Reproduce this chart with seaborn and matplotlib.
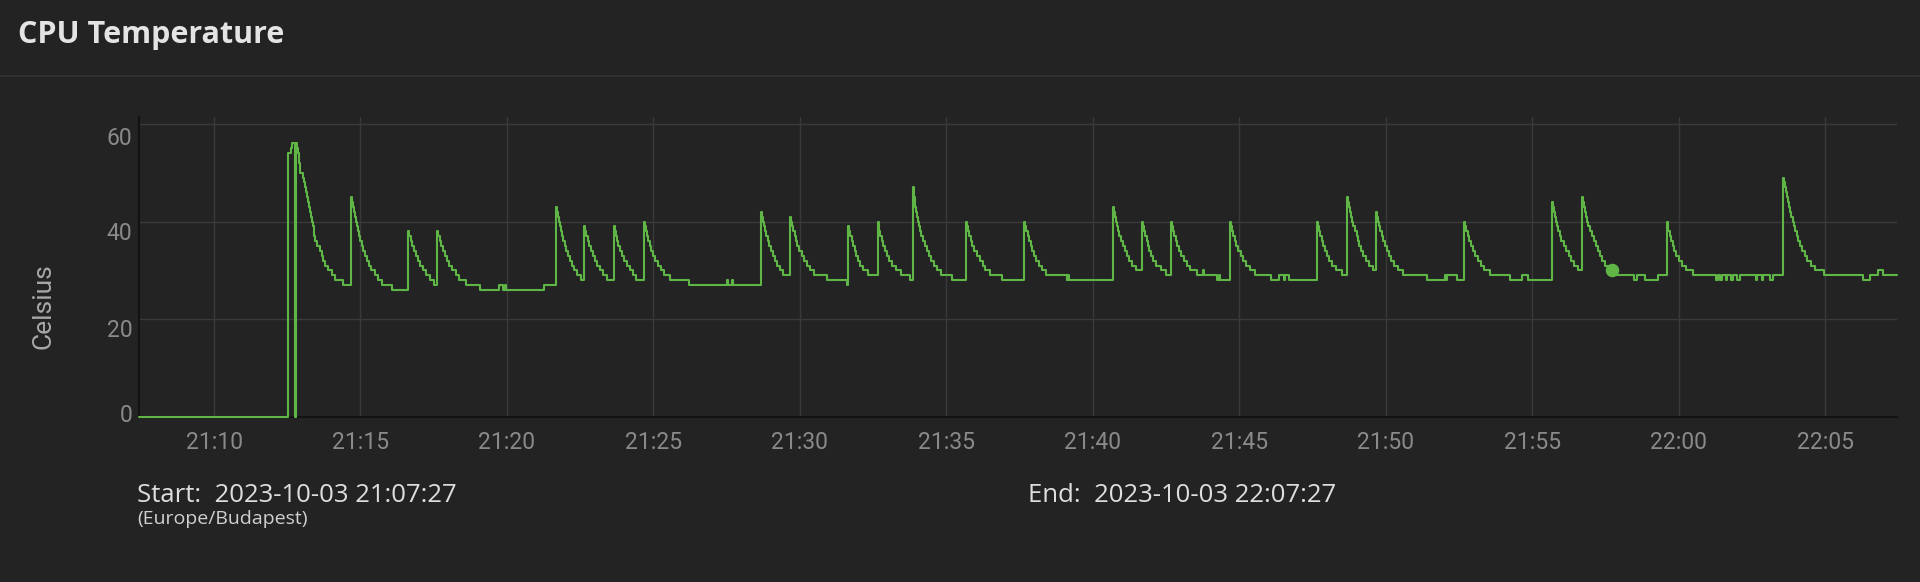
import numpy as np
import pandas as pd
import matplotlib
matplotlib.use("Agg")
import matplotlib.pyplot as plt
import matplotlib.dates as mdates
from matplotlib.lines import Line2D
from matplotlib.transforms import ScaledTranslation
import seaborn as sns

start = "2023-10-03 21:07:27"
end = "2023-10-03 22:07:27"
zone = "Europe/Budapest"

# CPU temperature in Celsius, each value held for the matching number of seconds
temps = [
    0, 54, 55, 56, 0, 56, 55, 54, 53, 52, 51, 50, 49, 48, 47, 46, 45, 44, 43, 42, 41, 40, 39, 38, 37, 36, 35, 34, 33, 32, 31, 30, 29, 28, 27,
    45, 44, 43, 42, 41, 40, 39, 38, 37, 36, 35, 34, 33, 32, 31, 30, 29, 28, 27, 26,
    38, 37, 36, 35, 34, 33, 32, 31, 30, 29, 28, 27,
    38, 37, 36, 35, 34, 33, 32, 31, 30, 29, 28, 27, 26, 27, 26, 27, 26, 27,
    43, 42, 41, 40, 39, 38, 37, 36, 35, 34, 33, 32, 31, 30, 29, 28,
    39, 38, 37, 36, 35, 34, 33, 32, 31, 30, 29, 28,
    39, 38, 37, 36, 35, 34, 33, 32, 31, 30, 29, 28,
    40, 39, 38, 37, 36, 35, 34, 33, 32, 31, 30, 29, 28, 27, 28, 27, 28, 27,
    42, 41, 40, 39, 38, 37, 36, 35, 34, 33, 32, 31, 30, 29,
    41, 40, 39, 38, 37, 36, 35, 34, 33, 32, 31, 30, 29, 28, 27,
    39, 38, 37, 36, 35, 34, 33, 32, 31, 30, 29,
    40, 39, 38, 37, 36, 35, 34, 33, 32, 31, 30, 29, 28,
    47, 46, 45, 44, 43, 42, 41, 40, 39, 38, 37, 36, 35, 34, 33, 32, 31, 30, 29, 28,
    40, 39, 38, 37, 36, 35, 34, 33, 32, 31, 30, 29, 28,
    40, 39, 38, 37, 36, 35, 34, 33, 32, 31, 30, 29, 28, 29, 28, 29, 28,
    43, 42, 41, 40, 39, 38, 37, 36, 35, 34, 33, 32, 31, 30,
    40, 39, 38, 37, 36, 35, 34, 33, 32, 31, 30, 29,
    40, 39, 38, 37, 36, 35, 34, 33, 32, 31, 30, 29, 30, 29, 28, 29, 28,
    40, 39, 38, 37, 36, 35, 34, 33, 32, 31, 30, 29, 28, 29, 28, 29, 28,
    40, 39, 38, 37, 36, 35, 34, 33, 32, 31, 30, 29,
    45, 44, 43, 42, 41, 40, 39, 38, 37, 36, 35, 34, 33, 32, 31, 30,
    42, 41, 40, 39, 38, 37, 36, 35, 34, 33, 32, 31, 30, 29, 28, 29, 28, 29, 28,
    40, 39, 38, 37, 36, 35, 34, 33, 32, 31, 30, 29, 28, 29, 28,
    44, 43, 42, 41, 40, 39, 38, 37, 36, 35, 34, 33, 32, 31, 30,
    45, 44, 43, 42, 41, 40, 39, 38, 37, 36, 35, 34, 33, 32, 31, 30, 29, 28, 29, 28, 29,
    40, 39, 38, 37, 36, 35, 34, 33, 32, 31, 30, 29, 28, 29, 28, 29, 28, 29, 28, 29, 28, 29, 28, 29, 28, 29, 28, 29,
    49, 48, 47, 46, 45, 44, 43, 42, 41, 40, 39, 38, 37, 36, 35, 34, 33, 32, 31, 30, 29, 28, 29, 30, 29,
]
secs = [
    305, 5, 2, 7, 2, 2, 2, 2, 1, 1, 1, 6, 2, 2, 2, 2, 2, 2, 1, 2, 2, 2, 2, 1, 2, 4, 6, 4, 3, 4, 6, 7, 7, 16, 16,
    2, 2, 2, 3, 2, 2, 2, 2, 3, 3, 3, 3, 4, 4, 5, 7, 7, 8, 20, 34,
    2, 3, 3, 4, 4, 4, 4, 6, 7, 7, 9, 6,
    2, 3, 3, 4, 4, 4, 5, 6, 7, 7, 15, 28, 39, 8, 3, 4, 77, 24,
    2, 2, 2, 2, 2, 2, 3, 3, 3, 4, 4, 4, 5, 6, 7, 7,
    2, 2, 3, 3, 4, 4, 4, 5, 6, 6, 8, 14,
    2, 2, 2, 3, 3, 4, 4, 6, 6, 7, 7, 16,
    2, 2, 2, 2, 3, 3, 4, 5, 5, 7, 6, 12, 38, 78, 2, 8, 2, 58,
    2, 2, 2, 2, 3, 3, 3, 4, 4, 4, 4, 6, 6, 15,
    2, 2, 2, 3, 3, 3, 4, 5, 5, 5, 6, 8, 27, 41, 3,
    2, 2, 3, 3, 3, 3, 4, 5, 6, 10, 19,
    2, 2, 2, 3, 3, 3, 4, 4, 6, 8, 12, 18, 5,
    2, 1, 1, 1, 2, 2, 2, 2, 2, 3, 3, 4, 4, 4, 4, 6, 7, 9, 21, 29,
    2, 2, 3, 3, 3, 4, 5, 6, 6, 6, 9, 24, 47,
    2, 2, 3, 3, 3, 3, 4, 4, 5, 6, 10, 42, 1, 1, 1, 1, 90,
    2, 2, 2, 2, 2, 3, 3, 4, 4, 5, 5, 6, 8, 11,
    2, 2, 3, 3, 3, 3, 4, 4, 6, 10, 10, 10,
    2, 2, 3, 3, 3, 4, 4, 5, 6, 7, 15, 12, 2, 26, 4, 2, 21,
    2, 2, 3, 3, 3, 4, 5, 5, 5, 8, 12, 32, 17, 10, 2, 7, 59,
    2, 2, 2, 3, 3, 3, 4, 5, 6, 8, 12, 10,
    2, 2, 2, 2, 2, 3, 3, 4, 3, 3, 4, 4, 5, 6, 8, 7,
    2, 2, 2, 3, 3, 3, 3, 4, 4, 5, 6, 8, 10, 49, 38, 2, 2, 20, 15,
    2, 2, 3, 3, 3, 4, 5, 5, 6, 8, 12, 40, 24, 14, 49,
    2, 2, 2, 1, 2, 3, 3, 3, 5, 6, 5, 5, 6, 8, 8,
    2, 2, 2, 2, 2, 3, 3, 4, 4, 4, 4, 4, 5, 6, 7, 11, 41, 7, 15, 28, 17,
    2, 2, 3, 3, 3, 3, 4, 5, 6, 8, 15, 48, 3, 5, 3, 8, 3, 9, 3, 8, 6, 33, 3, 9, 3, 14, 7, 19,
    2, 2, 2, 2, 2, 2, 2, 3, 3, 3, 3, 3, 3, 4, 4, 5, 5, 7, 9, 19, 79, 14, 17, 10, 29,
]

# highlighted point
marker_time = "2023-10-03 21:57:43"
marker_temp = 30

y_ticks = [0, 20, 40, 60]

bg = "#232323"
green = "#5fb646"

sns.set_theme(style="dark")
plt.rcParams["font.family"] = ["Roboto", "DejaVu Sans"]

t0 = pd.Timestamp(start)
t1 = pd.Timestamp(end)
edges = np.concatenate([[0], np.cumsum(secs)])
df = pd.DataFrame({
    "time": t0 + pd.to_timedelta(edges, unit="s"),
    "temp": temps + [temps[-1]],
})

W, H = 1920, 582
fig = plt.figure(figsize=(W / 100, H / 100), dpi=100)
fig.patch.set_facecolor(bg)
ax = fig.add_axes([139.3 / W, 1 - 417 / H, (1897 - 139.3) / W, 300 / H])
ax.set_facecolor(bg)

sns.lineplot(data=df, x="time", y="temp", ax=ax, color=green, linewidth=1.5,
             drawstyle="steps-post", estimator=None, sort=False,
             zorder=4, clip_on=False)
sns.scatterplot(x=[pd.Timestamp(marker_time)], y=[marker_temp], ax=ax,
                color=green, s=95, linewidth=0, zorder=5)

ax.set_xlim(t0.to_pydatetime(), t1.to_pydatetime())
ax.set_ylim(0, 61.4)
ax.set_yticks(y_ticks)
ax.xaxis.set_major_locator(mdates.MinuteLocator(byminute=range(0, 60, 5)))
ax.xaxis.set_major_formatter(mdates.DateFormatter("%H:%M"))
ax.set_xlabel("")
ax.set_ylabel("")

ax.grid(True, color="#3a3a3a", linewidth=1)
for side in ["top", "right"]:
    ax.spines[side].set_visible(False)
for side in ["left", "bottom"]:
    ax.spines[side].set_color("#121212")
    ax.spines[side].set_linewidth(1.5)
ax.tick_params(axis="both", length=0, colors="#8a8a8a", labelsize=16.5)
ax.tick_params(axis="x", pad=10)
ax.tick_params(axis="y", pad=5)

# labels in the reference sit a little below their grid lines
shift = {0: -4, 20: 9, 40: 9, 60: 12}
for val, lab in zip(y_ticks, ax.get_yticklabels()):
    lab.set_transform(lab.get_transform() + ScaledTranslation(0, -shift[val] / 100, fig.dpi_scale_trans))

fig.text(43 / W, 1 - 306 / H, "Celsius", rotation=90, ha="center", va="center",
         fontsize=19, color="#a8a8a8")

# header
fig.text(18 / W, 1 - 43 / H, "CPU Temperature", fontsize=22, fontweight="bold",
         family=["Open Sans", "DejaVu Sans"], color="#e4e4e4", va="baseline")
fig.add_artist(Line2D([0, 1], [1 - 76 / H] * 2, color="#303030", linewidth=1.5,
                      transform=fig.transFigure))

# footer
foot = ["Open Sans", "DejaVu Sans"]
fig.text(137 / W, 1 - 502 / H, "Start:  " + start, fontsize=18.5, family=foot,
         color="#dedede", va="baseline")
fig.text(137 / W, 1 - 524 / H, "(" + zone + ")", fontsize=14, family=foot,
         color="#d0d0d0", va="baseline")
fig.text(1028 / W, 1 - 502 / H, "End:  " + end, fontsize=18.5, family=foot,
         color="#dedede", va="baseline")

fig.savefig("out.png", dpi=100, facecolor=bg)
